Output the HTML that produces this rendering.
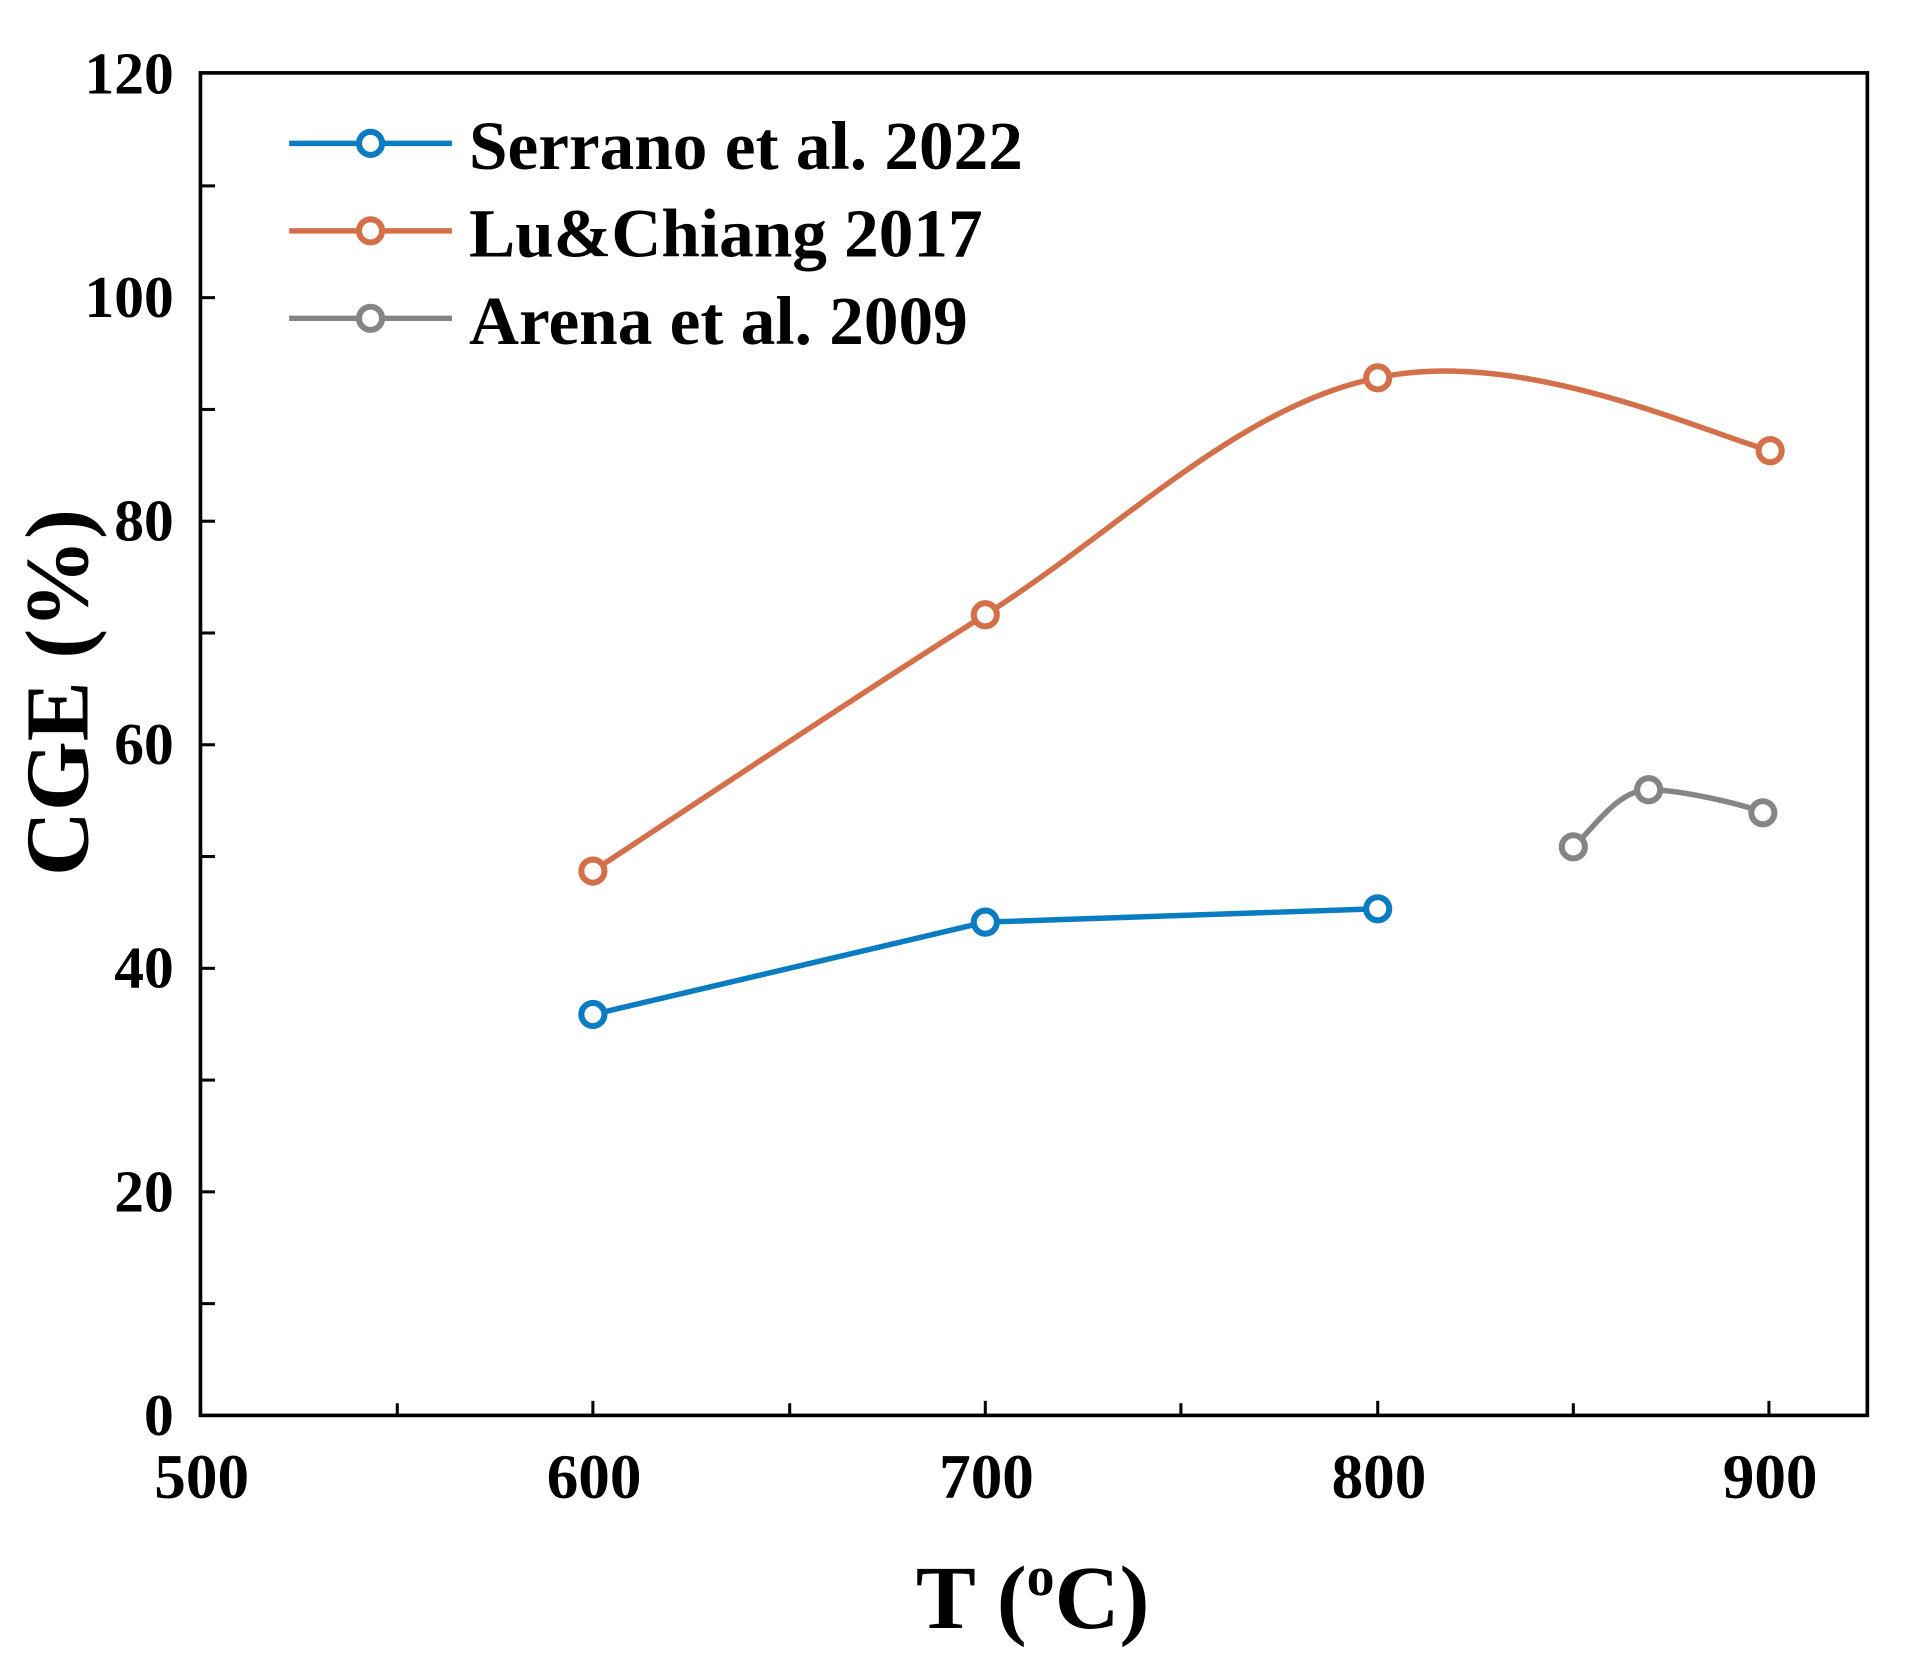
<!DOCTYPE html>
<html><head><style>html,body{margin:0;padding:0;background:#fff}svg{display:block}</style></head>
<body>
<svg width="1905" height="1672" viewBox="0 0 1568 1376.2" preserveAspectRatio="none" xmlns="http://www.w3.org/2000/svg" font-family="Liberation Serif, serif" font-weight="bold">
<rect x="165" y="60" width="1372" height="1105" fill="none" stroke="#000" stroke-width="3"/>
<g stroke="#000" stroke-width="2.5">
<line x1="165" y1="1073" x2="177" y2="1073"/><line x1="165" y1="981" x2="177" y2="981"/>
<line x1="165" y1="889" x2="177" y2="889"/><line x1="165" y1="797" x2="177" y2="797"/>
<line x1="165" y1="705" x2="177" y2="705"/><line x1="165" y1="613" x2="177" y2="613"/>
<line x1="165" y1="521" x2="177" y2="521"/><line x1="165" y1="429" x2="177" y2="429"/>
<line x1="165" y1="337" x2="177" y2="337"/><line x1="165" y1="245" x2="177" y2="245"/>
<line x1="165" y1="153" x2="177" y2="153"/>
<line x1="327" y1="1165" x2="327" y2="1155"/><line x1="488" y1="1165" x2="488" y2="1153"/>
<line x1="650" y1="1165" x2="650" y2="1155"/><line x1="811" y1="1165" x2="811" y2="1153"/>
<line x1="972" y1="1165" x2="972" y2="1155"/><line x1="1134" y1="1165" x2="1134" y2="1153"/>
<line x1="1295" y1="1165" x2="1295" y2="1155"/><line x1="1456" y1="1165" x2="1456" y2="1153"/>
</g>
<g font-size="49" text-anchor="end">
<text x="143" y="1181">0</text><text x="143" y="997">20</text><text x="143" y="813">40</text>
<text x="143" y="629">60</text><text x="143" y="445">80</text><text x="143" y="261">100</text><text x="143" y="77">120</text>
</g>
<g font-size="52" text-anchor="middle">
<text x="166" y="1233">500</text><text x="489" y="1233">600</text><text x="812" y="1233">700</text>
<text x="1135" y="1233">800</text><text x="1457" y="1233">900</text>
</g>
<text x="850" y="1340" font-size="74" text-anchor="middle">T (<tspan font-size="46" dy="-27">o</tspan><tspan dy="27">C)</tspan></text>
<text transform="translate(72,570) rotate(-90)" font-size="74" text-anchor="middle">CGE (%)</text>
<g fill="none" stroke-width="4.5">
<path d="M488,835 L811,759 L1134,748" stroke="#0a7dc2"/>
<path d="M488,717 C541.8,681.8 703.3,573.7 811,506 C918.7,438.3 1020,333.5 1134,311 C1250,285 1403.2,356 1457,371" stroke="#d3704a"/>
<path d="M1295,697 C1310,684 1331,650 1357,650 C1383,650 1435.3,662 1451,669" stroke="#858585"/>
<line x1="238" y1="118" x2="372" y2="118" stroke="#0a7dc2"/>
<line x1="238" y1="190" x2="372" y2="190" stroke="#d3704a"/>
<line x1="238" y1="262" x2="372" y2="262" stroke="#858585"/>
</g>
<g fill="#fff" stroke-width="5">
<g stroke="#0a7dc2"><circle cx="488" cy="835" r="9.5"/><circle cx="811" cy="759" r="9.5"/><circle cx="1134" cy="748" r="9.5"/><circle cx="305" cy="118" r="9.5"/></g>
<g stroke="#d3704a"><circle cx="488" cy="717" r="9.5"/><circle cx="811" cy="506" r="9.5"/><circle cx="1134" cy="311" r="9.5"/><circle cx="1457" cy="371" r="9.5"/><circle cx="305" cy="190" r="9.5"/></g>
<g stroke="#858585"><circle cx="1295" cy="697" r="9.5"/><circle cx="1357" cy="650" r="9.5"/><circle cx="1451" cy="669" r="9.5"/><circle cx="305" cy="262" r="9.5"/></g>
</g>
<g font-size="57">
<text x="386" y="139">Serrano et al. 2022</text>
<text x="386" y="211">Lu&amp;Chiang 2017</text>
<text x="386" y="283">Arena et al. 2009</text>
</g>
</svg>
</body></html>
